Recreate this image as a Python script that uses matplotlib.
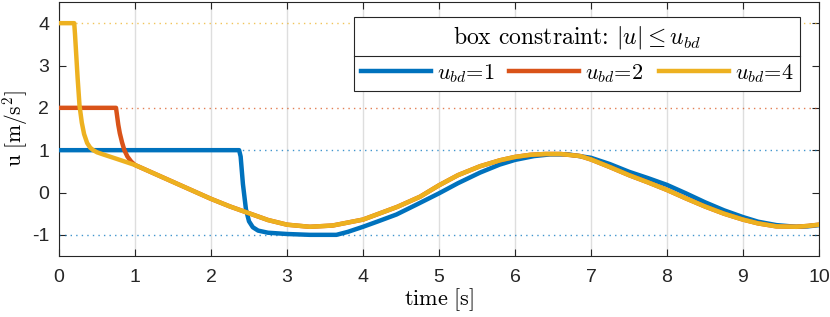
import numpy as np
import matplotlib.pyplot as plt
from matplotlib.lines import Line2D

plt.rcParams['font.family'] = ['Liberation Sans', 'DejaVu Sans']
plt.rcParams['mathtext.fontset'] = 'cm'
plt.rcParams['axes.unicode_minus'] = False

# values
t_blue = [0, 0.5, 1.0, 1.5, 2.0, 2.37, 2.39, 2.42, 2.46, 2.50, 2.55, 2.62, 2.75, 3.0, 3.3, 3.65,
          3.8, 4.0, 4.2, 4.44, 4.7, 5.0, 5.25, 5.54, 5.8, 6.0, 6.25, 6.46, 6.7, 7.0, 7.25, 7.5,
          7.75, 8.0, 8.25, 8.5, 8.75, 9.0, 9.2, 9.44, 9.7, 9.85, 10.0]
u_blue = [1, 1, 1, 1, 1, 1, 0.85, 0.2, -0.4, -0.68, -0.82, -0.9, -0.95, -0.98, -1.0, -1.0,
          -0.93, -0.81, -0.68, -0.52, -0.29, -0.02, 0.22, 0.47, 0.66, 0.77, 0.86, 0.9, 0.9, 0.82, 0.67, 0.49,
          0.34, 0.18, -0.02, -0.23, -0.42, -0.58, -0.69, -0.77, -0.81, -0.8, -0.77]

t_orange = [0, 0.3, 0.6, 0.75, 0.765, 0.78, 0.80, 0.83, 0.86, 0.90, 0.95, 1.0, 1.25, 1.5, 1.75, 2.0, 2.25,
            2.5, 2.75, 3.0, 3.3, 3.6, 4.0, 4.45, 4.75, 5.0, 5.25, 5.54, 5.8, 6.0, 6.2, 6.4, 6.6, 6.86, 7.0,
            7.25, 7.5, 7.75, 8.0, 8.25, 8.5, 8.75, 9.0, 9.2, 9.44, 9.7, 9.85, 10.0]
u_orange = [2, 2, 2, 2, 1.8, 1.6, 1.4, 1.18, 1.0, 0.85, 0.73, 0.65, 0.45, 0.25, 0.05, -0.15, -0.33,
            -0.49, -0.65, -0.76, -0.81, -0.78, -0.64, -0.34, -0.1, 0.17, 0.41, 0.62, 0.76, 0.84, 0.89, 0.91, 0.91, 0.86, 0.78,
            0.6, 0.41, 0.24, 0.06, -0.14, -0.33, -0.5, -0.64, -0.73, -0.8, -0.81, -0.79, -0.76]

t_yellow = [0, 0.1, 0.2, 0.21, 0.225, 0.245, 0.27, 0.3, 0.33, 0.37, 0.41, 0.45, 0.5, 0.58, 0.75, 1.0,
            1.25, 1.5, 1.75, 2.0, 2.25, 2.5, 2.75, 3.0, 3.3, 3.6, 4.0, 4.45, 4.75, 5.0, 5.25, 5.54, 5.8,
            6.0, 6.2, 6.4, 6.6, 6.86, 7.0, 7.25, 7.5, 7.75, 8.0, 8.25, 8.5, 8.75, 9.0, 9.2, 9.44, 9.7,
            9.85, 10.0]
u_yellow = [4, 4, 4, 3.75, 3.3, 2.7, 2.05, 1.65, 1.38, 1.17, 1.06, 1.0, 0.95, 0.9, 0.8, 0.65,
            0.45, 0.25, 0.05, -0.15, -0.33, -0.49, -0.65, -0.76, -0.81, -0.78, -0.64, -0.34, -0.1, 0.17, 0.41, 0.62, 0.76,
            0.84, 0.89, 0.91, 0.91, 0.86, 0.78, 0.6, 0.41, 0.24, 0.06, -0.14, -0.33, -0.5, -0.64, -0.73, -0.8, -0.81,
            -0.79, -0.76]

bounds = [1, 2, 4]
labels = [r'$u_{bd}$=1', r'$u_{bd}$=2', r'$u_{bd}$=4']
colors = ['#0072BD', '#D95319', '#EDB120']

fig = plt.figure(figsize=(8.3, 3.17), dpi=100)
ax = fig.add_axes([0.0711, 0.1924, 0.9156, 0.8013])

for b, c in zip(bounds, colors):
    ax.axhline(b, color=c, ls=(0, (1, 3)), lw=1.0, alpha=0.75, zorder=1)
    ax.axhline(-b, color=c, ls=(0, (1, 3)), lw=1.0, alpha=0.75, zorder=1)

lw = 3.2
l1, = ax.plot(t_blue, u_blue, color=colors[0], lw=lw, zorder=3, solid_joinstyle='round')
l2, = ax.plot(t_orange, u_orange, color=colors[1], lw=lw, zorder=4, solid_joinstyle='round')
l3, = ax.plot(t_yellow, u_yellow, color=colors[2], lw=lw, zorder=5, solid_joinstyle='round')

ax.set_xlim(0, 10)
ax.set_ylim(-1.5, 4.5)
ax.set_xticks(range(0, 11))
ax.set_yticks([-1, 0, 1, 2, 3, 4])
ax.grid(axis='x', color='#dedede', lw=1.0)
ax.set_axisbelow(True)
ax.tick_params(direction='in', top=True, right=True, length=5, width=0.8,
               labelsize=14, colors='#262626')
ax.tick_params(axis='x', pad=9.5)
ax.tick_params(axis='y', pad=7)
for s in ax.spines.values():
    s.set_color('#262626')
    s.set_linewidth(0.8)

ax.set_xlabel(r'$\mathrm{time\ [s]}$', fontsize=16, labelpad=0)
ax.set_ylabel(r'$\mathrm{u\ [m/s^2]}$', fontsize=15.5)
ax.yaxis.set_label_coords(-0.038, 0.5)

leg = ax.legend([l1, l2, l3], labels, ncol=3, loc='upper right',
                bbox_to_anchor=(800 / 830, 1 - 17 / 317), bbox_transform=fig.transFigure,
                title=r'box constraint: $|u| \leq u_{bd}$',
                prop={'family': 'cmr10', 'size': 16},
                title_fontproperties={'family': 'cmr10', 'size': 17},
                fancybox=False, framealpha=1,
                edgecolor='#262626', handlelength=3.15, columnspacing=0.68,
                handletextpad=0.27, borderpad=0.3, borderaxespad=0)
leg.get_frame().set_linewidth(0.8)
leg.set_zorder(10)

fig.canvas.draw()
fb = leg.get_frame().get_window_extent()
tb = leg.get_title().get_window_extent()
ysep = tb.y0 - 5
inv = fig.transFigure.inverted()
(x0, y0) = inv.transform((fb.x0, ysep))
(x1, _) = inv.transform((fb.x1, ysep))
fig.add_artist(Line2D([x0, x1], [y0, y0], transform=fig.transFigure,
                      color='#262626', lw=0.8, zorder=11))

fig.savefig('out.png', dpi=100)
